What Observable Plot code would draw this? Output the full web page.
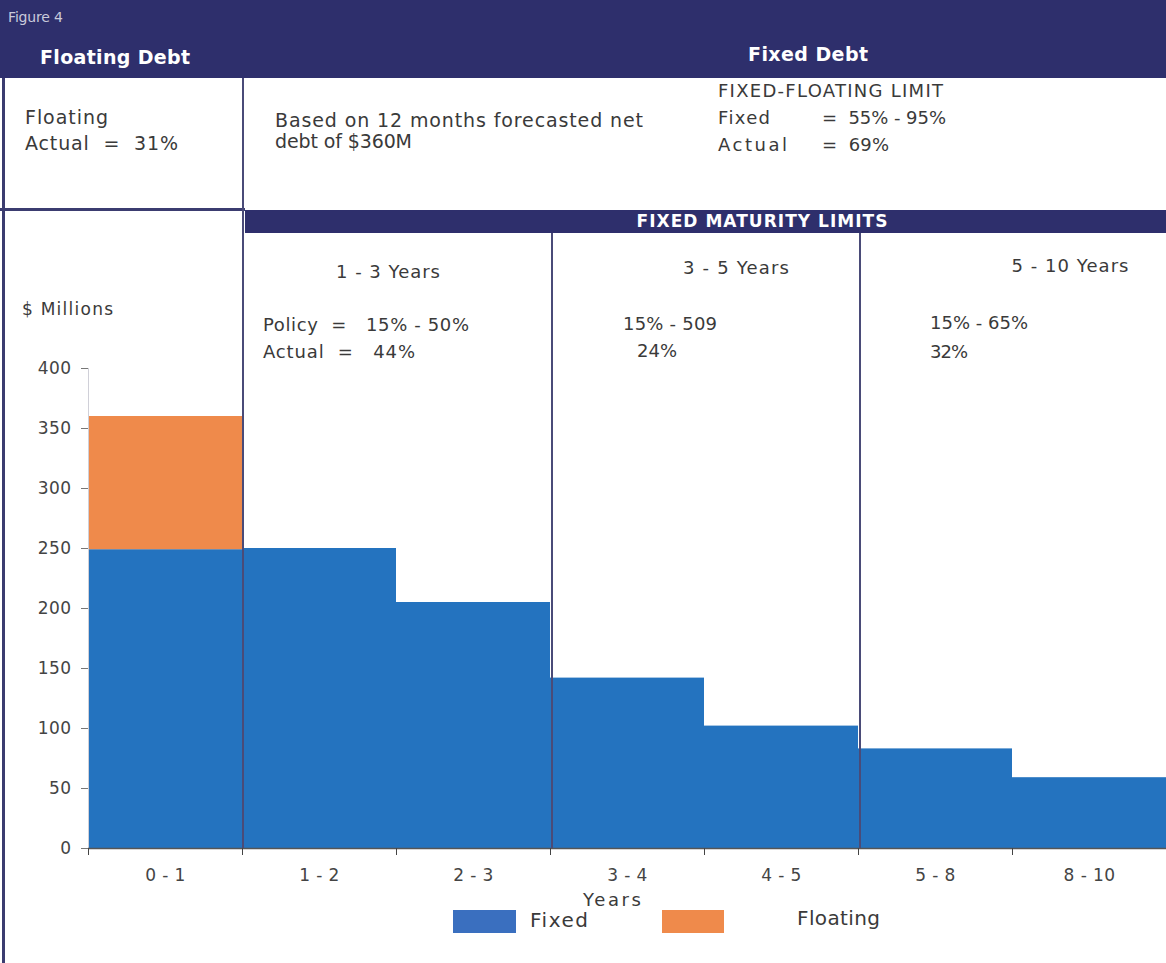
<!DOCTYPE html>
<html>
<head>
<meta charset="utf-8">
<script src="https://cdn.jsdelivr.net/npm/d3@7"></script>
<script src="https://cdn.jsdelivr.net/npm/@observablehq/plot@0.6"></script>
<style>
  body { margin: 0; background: #fff; }
  #wrap { position: relative; width: 1166px; height: 963px; overflow: hidden; background: #fff;
          font-family: "DejaVu Sans", "Noto Sans", sans-serif; color: #3a3a3a; }
  #chart { position: absolute; left: 0; top: 0; }
  .t { position: absolute; white-space: pre; line-height: 1; }
  .box { position: absolute; }
</style>
</head>
<body>
<div id="wrap">
  <div id="chart"></div>
</div>
<script>
// ---- data ----
const categories = ["0 - 1", "1 - 2", "2 - 3", "3 - 4", "4 - 5", "5 - 8", "8 - 10"];
const fixedValues = [249, 250, 205, 142, 102, 83, 59];
const floatingValues = [111, 0, 0, 0, 0, 0, 0];
const yTicks = [0, 50, 100, 150, 200, 250, 300, 350, 400];
const seriesNames = ["Fixed", "Floating"];

const navy = "#2e2f6c";
const blue = "#2473bf";
const orange = "#ef8a4b";
const font = '"DejaVu Sans", "Noto Sans", sans-serif';

const fixedRows = categories.map((c, i) => ({i, cat: c, y1: 0, y2: fixedValues[i]}));
const floatRows = categories.map((c, i) => ({i, cat: c, y1: fixedValues[i], y2: fixedValues[i] + floatingValues[i]}))
  .filter(d => d.y2 > d.y1);

const chart = Plot.plot({
  width: 1166,
  height: 963,
  marginLeft: 88,
  marginRight: 0,
  marginTop: 368,
  marginBottom: 115,
  x: {domain: [0, categories.length], axis: null},
  y: {domain: [0, 400], axis: null},
  style: {fontFamily: font, fontSize: "16px", color: "#444", background: "transparent", overflow: "visible"},
  marks: [
    Plot.rect(fixedRows, {x1: "i", x2: d => d.i + 1, y1: "y1", y2: "y2", fill: blue}),
    Plot.rect(floatRows, {x1: "i", x2: d => d.i + 1, y1: "y1", y2: "y2", fill: orange}),
    Plot.ruleX([0], {stroke: "#d0d0d8", strokeWidth: 1}),
    Plot.axisY({ticks: yTicks, tickSize: 7, tickPadding: 10, label: null, tickFormat: d => String(d),
                stroke: "#777", fill: "#444", fontSize: 17}),
    Plot.ruleY([0], {stroke: "#555", strokeWidth: 1.5}),
    Plot.axisX({ticks: d3.range(categories.length + 1), tickSize: 7, label: null, tickFormat: () => "", stroke: "#444"}),
    Plot.axisX({ticks: categories.map((c, i) => i + 0.5), tickSize: 0, tickPadding: 20, label: null,
                tickFormat: d => categories[Math.round(d - 0.5)], fill: "#444", fontSize: 17})
  ]
});
document.getElementById("chart").appendChild(chart);
chart.querySelectorAll("text").forEach(t => t.setAttribute("letter-spacing", "0.4"));

// ---- layout overlay ----
const wrap = document.getElementById("wrap");
function rect(x, y, w, h, color) {
  const d = document.createElement("div");
  d.className = "box";
  Object.assign(d.style, {left: x + "px", top: y + "px", width: w + "px", height: h + "px", background: color});
  wrap.appendChild(d);
}
// text placed with its left edge (or centre) at x and vertical centre at y,
// letter-spaced so its footprint matches the width w of the original lettering
function text(s, x, y, w, opts = {}) {
  const d = document.createElement("div");
  d.className = "t";
  d.textContent = s;
  Object.assign(d.style, {left: "0px", top: "0px", fontSize: (opts.size || 16) + "px",
    fontWeight: opts.bold ? "bold" : "normal", color: opts.color || "#3a3a3a"});
  wrap.appendChild(d);
  const base = d.getBoundingClientRect().width;
  const n = Math.max(1, s.length - 1);
  const ls = Math.max(-1.5, (w - base) / n);
  d.style.letterSpacing = ls + "px";
  const h = d.getBoundingClientRect().height;
  const left = opts.center ? x - w / 2 : x;
  d.style.left = left + "px";
  d.style.top = (y - h / 2) + "px";
}

rect(0, 0, 1166, 78, navy);
rect(2, 78, 3, 885, "#3b3c70");
rect(0, 208, 245, 3, "#3b3c70");
rect(242, 78, 2, 770, "#4a4b78");
rect(245, 210, 921, 23, navy);
rect(551, 233, 2, 615, "#4a4b78");
rect(859, 233, 2, 615, "#4a4b78");

text("Figure 4", 8, 17, 55, {size: 14, color: "#c9cadb"});
text("Floating Debt", 40, 57, 150, {size: 19, bold: true, color: "#fff"});
text("Fixed Debt", 808, 54, 120, {size: 19, bold: true, color: "#fff", center: true});

text("Floating", 25, 117, 83, {size: 19});
text("Actual  =  31%", 25, 143, 153, {size: 19});
text("Based on 12 months forecasted net", 275, 120, 368, {size: 19});
text("debt of $360M", 275, 141, 137, {size: 19});
text("FIXED-FLOATING LIMIT", 718, 91, 225, {size: 18});
text("Fixed", 718, 118, 52, {size: 18});
text("=  55% - 95%", 822, 118, 124, {size: 18});
text("Actual", 718, 145, 69, {size: 18});
text("=  69%", 822, 145, 67, {size: 18});

text("FIXED MATURITY LIMITS", 762, 221, 251, {size: 17, bold: true, color: "#fff", center: true});

text("1 - 3 Years", 388, 272, 104, {size: 18, center: true});
text("Policy  =   15% - 50%", 263, 325, 206, {size: 18});
text("Actual  =   44%", 263, 352, 152, {size: 18});
text("3 - 5 Years", 736, 268, 106, {size: 18, center: true});
text("15% - 509", 623, 324, 94, {size: 18});
text("24%", 637, 351, 40, {size: 18});
text("5 - 10 Years", 1070, 266, 117, {size: 18, center: true});
text("15% - 65%", 930, 323, 98, {size: 18});
text("32%", 930, 352, 38, {size: 18});

text("$ Millions", 22, 309, 91, {size: 17});
text("Years", 612, 900, 58, {size: 18, center: true});

rect(453, 910, 63, 23, "#3a6fbf");
text(seriesNames[0], 530, 920, 58, {size: 20});
rect(662, 910, 62, 23, orange);
text(seriesNames[1], 797, 918, 83, {size: 20});
</script>
</body>
</html>
